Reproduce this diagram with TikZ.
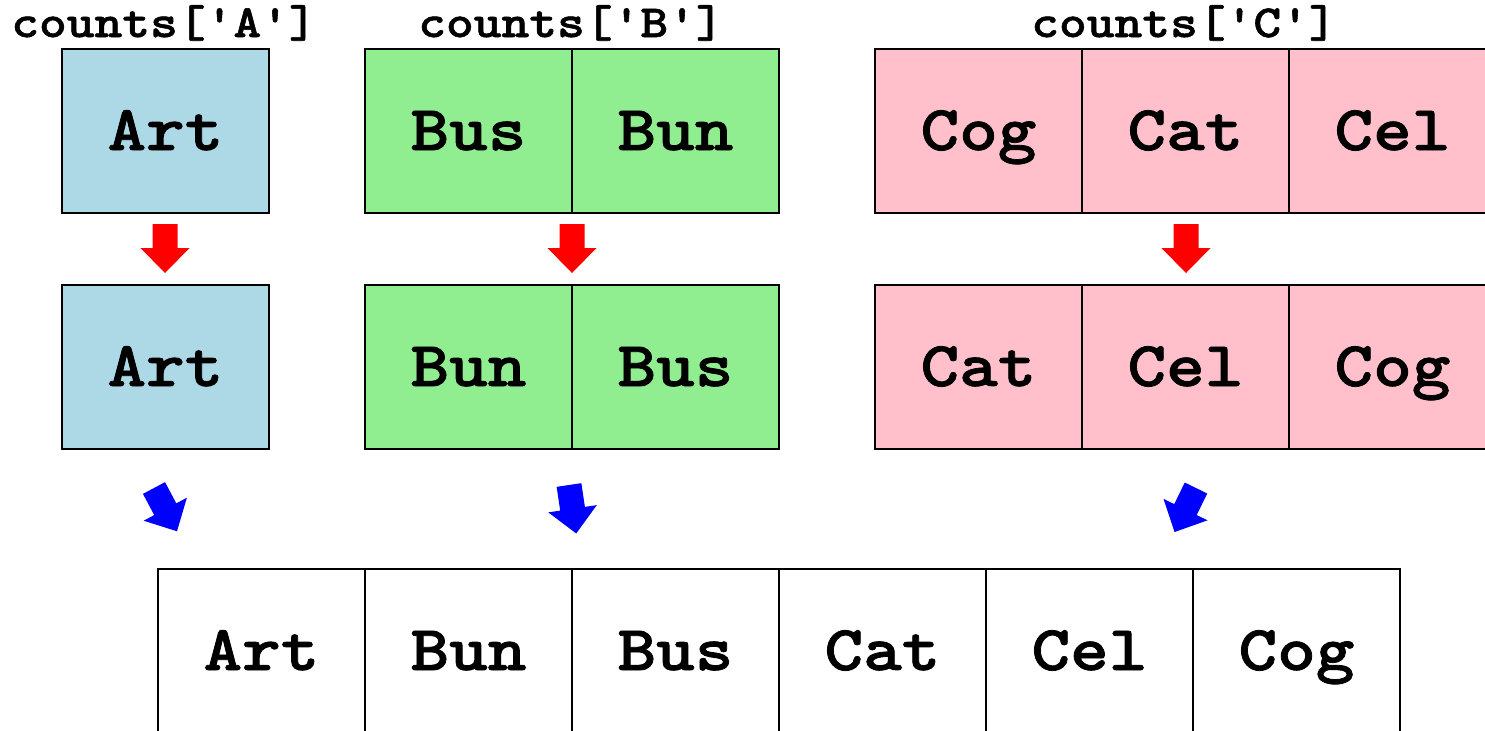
\documentclass[tikz,border=0pt]{standalone}
\usepackage{fontspec}
% bold slab-serif typewriter face, widened and thickened a little
\newfontfamily\typefont{lmmonolt10-bold.otf}[FakeStretch=1.15, FakeBold=1.2]
\definecolor{cellA}{RGB}{173,216,230}
\definecolor{cellB}{RGB}{144,238,144}
\definecolor{cellC}{RGB}{255,192,203}
\definecolor{arrRed}{RGB}{255,0,0}
\definecolor{arrBlue}{RGB}{0,0,255}
\tikzset{
  cell/.style={draw=black, line width=0.7pt, minimum width=103.5pt, minimum height=82pt,
    inner sep=0pt, text height=19pt, text depth=0pt,
    font=\typefont\fontsize{32}{36}\selectfont},
  grouplabel/.style={inner sep=0pt, anchor=base, font=\typefont\fontsize{23}{26}\selectfont},
  blockarrow/.pic={
    \fill[pic actions] (-12.5,0) -- (12.5,0) -- (12.5,24) -- (24.5,24) -- (0,49)
      -- (-24.5,24) -- (-12.5,24) -- cycle;
  }
}
\begin{document}
\begin{tikzpicture}[x=0.5pt, y=-0.5pt]
\path[use as bounding box] (0,0) rectangle (1485,730);
\clip (0,0) rectangle (1485,730);

% group labels
\node[grouplabel] (labA) at (164,37) {counts['A']};
\node[grouplabel] (labB) at (571,37) {counts['B']};
\node[grouplabel] (labC) at (1184,37) {counts['C']};

% unsorted groups
\node[cell, fill=cellA] (a1) at (165.5,131) {Art};
\node[cell, fill=cellB] (b1) at (468.5,131) {Bus};
\node[cell, fill=cellB] (b2) at (675.5,131) {Bun};
\node[cell, fill=cellC] (c1) at (978.5,131) {Cog};
\node[cell, fill=cellC] (c2) at (1185.5,131) {Cat};
\node[cell, fill=cellC] (c3) at (1392.5,131) {Cel};

% sorted groups
\node[cell, fill=cellA] (a1s) at (165.5,367) {Art};
\node[cell, fill=cellB] (b1s) at (468.5,367) {Bun};
\node[cell, fill=cellB] (b2s) at (675.5,367) {Bus};
\node[cell, fill=cellC] (c1s) at (978.5,367) {Cat};
\node[cell, fill=cellC] (c2s) at (1185.5,367) {Cel};
\node[cell, fill=cellC] (c3s) at (1392.5,367) {Cog};

% merged result
\node[cell, fill=white] (m1) at (261.5,651) {Art};
\node[cell, fill=white] (m2) at (468.5,651) {Bun};
\node[cell, fill=white] (m3) at (675.5,651) {Bus};
\node[cell, fill=white] (m4) at (882.5,651) {Cat};
\node[cell, fill=white] (m5) at (1089.5,651) {Cel};
\node[cell, fill=white] (m6) at (1296.5,651) {Cog};

% sort arrows
\pic[fill=arrRed] at (165,224) {blockarrow};
\pic[fill=arrRed] at (572,224) {blockarrow};
\pic[fill=arrRed] at (1186,224) {blockarrow};

% merge arrows
\pic[fill=arrBlue, rotate=28] at (154,488) {blockarrow};
\pic[fill=arrBlue, rotate=8.5] at (569,485) {blockarrow};
\pic[fill=arrBlue, rotate=-26] at (1196,488) {blockarrow};
\end{tikzpicture}
\end{document}
